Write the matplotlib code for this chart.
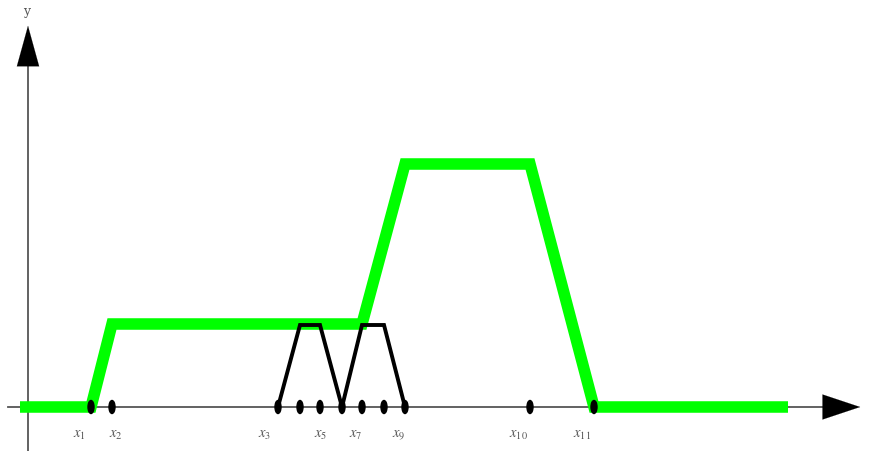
import matplotlib
matplotlib.use("Agg")
import matplotlib.pyplot as plt
from matplotlib.patches import Ellipse

plt.rcParams["mathtext.fontset"] = "stix"

# break points on the x axis (x1 .. x11)
xs = [63, 84, 250, 272, 292, 314, 334, 356, 377, 502, 566]
labelled = [1, 2, 3, 5, 7, 9, 10, 11]

# green membership curve
green_x = [-8, 63, 84, 334, 377, 502, 566, 760]
green_y = [0, 0, 83, 83, 243, 243, 0, 0]

# two black trapezoids
tri1_x = [250, 272, 292, 314]
tri2_x = [314, 334, 356, 377]
tri_y = [0, 82, 82, 0]

fig = plt.figure(figsize=(8.73, 4.52), dpi=100)
ax = fig.add_axes([0, 0, 1, 1])
ax.set_xlim(-28, 845)
ax.set_ylim(-44, 408)
ax.axis("off")

axis_col = "#555555"
# axes with arrow heads
ax.plot([0, 0], [-44, 350], color=axis_col, lw=1.3, zorder=1)
ax.annotate("", xy=(0, 384), xytext=(0, 343),
            arrowprops=dict(arrowstyle="-|>,head_length=2.9,head_width=0.8",
                            color="black", lw=0.1), zorder=2)
ax.plot([-20, 800], [0, 0], color=axis_col, lw=1.3, zorder=1)
ax.annotate("", xy=(835, 0), xytext=(797, 0),
            arrowprops=dict(arrowstyle="-|>,head_length=2.7,head_width=0.9",
                            color="black", lw=0.1), zorder=2)

ax.plot(green_x, green_y, color="#00ff00", lw=8.3, solid_joinstyle="miter",
        solid_capstyle="butt", zorder=3)
ax.plot(tri1_x, tri_y, color="black", lw=2.8, solid_joinstyle="miter", zorder=4)
ax.plot(tri2_x, tri_y, color="black", lw=2.8, solid_joinstyle="miter", zorder=4)

for x in xs:
    ax.add_patch(Ellipse((x, 0), 6, 13, color="black", zorder=5))

offsets = {1: -12, 2: 4, 3: -13, 5: 1, 7: -6, 9: -6, 10: -12, 11: -12}
for i in labelled:
    ax.text(xs[i - 1] + offsets[i], -27, "$x_{%d}$" % i, ha="center", va="center",
            fontsize=10.5, color="#555555")

ax.text(-1, 397, "y", ha="center", va="center", fontsize=9, color="#555555",
        family="DejaVu Serif")

fig.savefig("out.png", dpi=100)
